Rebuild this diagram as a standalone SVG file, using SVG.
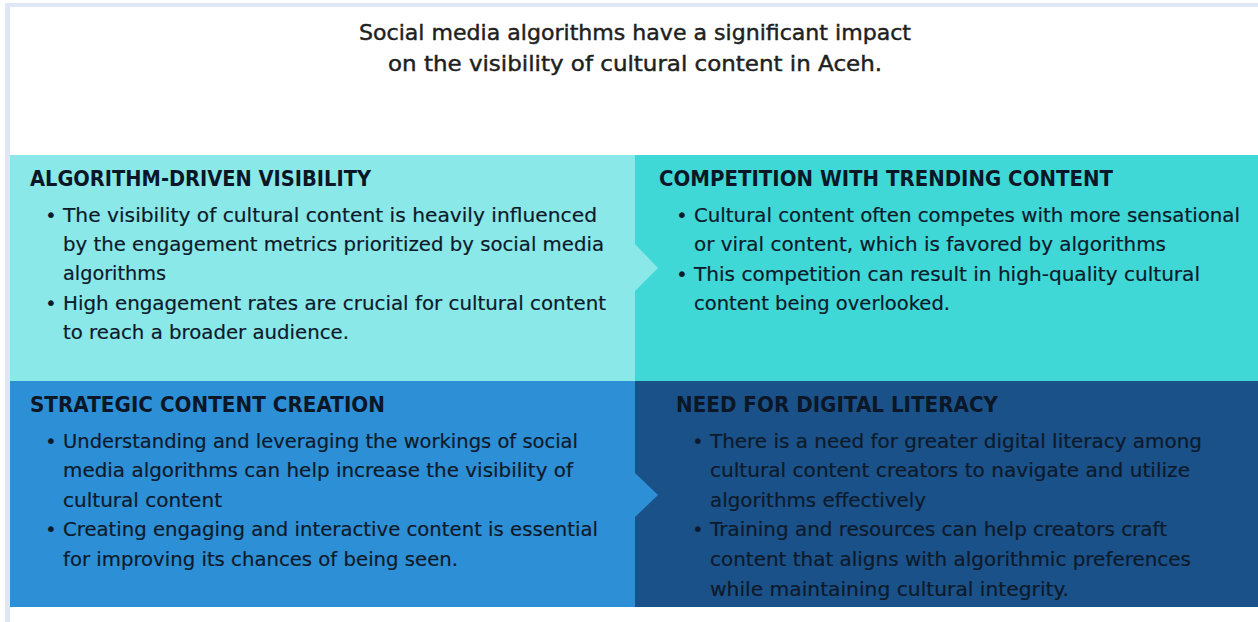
<svg xmlns="http://www.w3.org/2000/svg" width="1258" height="622" viewBox="0 0 1258 622">
<style>
.t{font-family:"DejaVu Sans","Liberation Sans",sans-serif;font-size:21px;fill:#1f1f1f;stroke:#1f1f1f;stroke-width:0.45px}
.h{font-family:"DejaVu Sans","Liberation Sans",sans-serif;font-size:21px;font-weight:bold;fill:#0b1626}
.b{font-family:"DejaVu Sans","Liberation Sans",sans-serif;font-size:19px;fill:#0d1a2b;stroke:#0d1a2b;stroke-width:0.2px}
.d{font-family:"DejaVu Sans","Liberation Sans",sans-serif;font-size:20px;fill:#0d1a2b}
</style>
<rect x="0" y="0" width="1258" height="622" fill="#ffffff"/>
<rect x="5" y="3" width="1253" height="4" fill="#dfe6f6"/>
<rect x="5" y="3" width="5" height="619" fill="#dfe6f6"/>
<g id="title">
<text class="t" x="635" y="40" text-anchor="middle" textLength="552" lengthAdjust="spacingAndGlyphs">Social media algorithms have a significant impact</text>
<text class="t" x="635" y="71" text-anchor="middle" textLength="494" lengthAdjust="spacingAndGlyphs">on the visibility of cultural content in Aceh.</text>
</g>
<g id="node-competition">
<rect x="635" y="155" width="623" height="226" fill="#3fd8d6"/>
<text class="h" x="659" y="186" textLength="454" lengthAdjust="spacingAndGlyphs">COMPETITION WITH TRENDING CONTENT</text>
<text class="d" x="676" y="222">•</text>
<text class="b" x="694" y="222" textLength="546" lengthAdjust="spacingAndGlyphs">Cultural content often competes with more sensational</text>
<text class="b" x="694" y="251" textLength="472" lengthAdjust="spacingAndGlyphs">or viral content, which is favored by algorithms</text>
<text class="d" x="676" y="281">•</text>
<text class="b" x="694" y="281" textLength="506" lengthAdjust="spacingAndGlyphs">This competition can result in high-quality cultural</text>
<text class="b" x="694" y="310" textLength="256" lengthAdjust="spacingAndGlyphs">content being overlooked.</text>
</g>
<g id="node-literacy">
<rect x="635" y="381" width="623" height="226" fill="#1a5188"/>
<text class="h" x="676" y="412" textLength="322" lengthAdjust="spacingAndGlyphs">NEED FOR DIGITAL LITERACY</text>
<text class="d" x="692" y="448">•</text>
<text class="b" x="710" y="448" textLength="492" lengthAdjust="spacingAndGlyphs">There is a need for greater digital literacy among</text>
<text class="b" x="710" y="477" textLength="480" lengthAdjust="spacingAndGlyphs">cultural content creators to navigate and utilize</text>
<text class="b" x="710" y="507" textLength="216" lengthAdjust="spacingAndGlyphs">algorithms effectively</text>
<text class="d" x="692" y="536">•</text>
<text class="b" x="710" y="536" textLength="457" lengthAdjust="spacingAndGlyphs">Training and resources can help creators craft</text>
<text class="b" x="710" y="566" textLength="481" lengthAdjust="spacingAndGlyphs">content that aligns with algorithmic preferences</text>
<text class="b" x="710" y="596" textLength="359" lengthAdjust="spacingAndGlyphs">while maintaining cultural integrity.</text>
</g>
<g id="node-algorithm">
<rect x="10" y="155" width="625" height="226" fill="#8ae8e8"/>
<text class="h" x="30" y="186" textLength="341" lengthAdjust="spacingAndGlyphs">ALGORITHM-DRIVEN VISIBILITY</text>
<text class="d" x="45" y="222">•</text>
<text class="b" x="63" y="222" textLength="534" lengthAdjust="spacingAndGlyphs">The visibility of cultural content is heavily influenced</text>
<text class="b" x="63" y="251" textLength="541" lengthAdjust="spacingAndGlyphs">by the engagement metrics prioritized by social media</text>
<text class="b" x="63" y="280" textLength="103" lengthAdjust="spacingAndGlyphs">algorithms</text>
<text class="d" x="45" y="310">•</text>
<text class="b" x="63" y="310" textLength="543" lengthAdjust="spacingAndGlyphs">High engagement rates are crucial for cultural content</text>
<text class="b" x="63" y="339" textLength="286" lengthAdjust="spacingAndGlyphs">to reach a broader audience.</text>
</g>
<g id="node-strategic">
<rect x="10" y="381" width="625" height="226" fill="#2d8fd5"/>
<text class="h" x="30" y="412" textLength="355" lengthAdjust="spacingAndGlyphs">STRATEGIC CONTENT CREATION</text>
<text class="d" x="45" y="448">•</text>
<text class="b" x="63" y="448" textLength="515" lengthAdjust="spacingAndGlyphs">Understanding and leveraging the workings of social</text>
<text class="b" x="63" y="477" textLength="510" lengthAdjust="spacingAndGlyphs">media algorithms can help increase the visibility of</text>
<text class="b" x="63" y="507" textLength="159" lengthAdjust="spacingAndGlyphs">cultural content</text>
<text class="d" x="45" y="536">•</text>
<text class="b" x="63" y="536" textLength="535" lengthAdjust="spacingAndGlyphs">Creating engaging and interactive content is essential</text>
<text class="b" x="63" y="566" textLength="395" lengthAdjust="spacingAndGlyphs">for improving its chances of being seen.</text>
</g>
<g id="connectors">
<polygon points="634,243 658,268 634,292" fill="#8ae8e8"/>
<polygon points="634,472 658,495 634,518" fill="#2d8fd5"/>
</g>
</svg>
